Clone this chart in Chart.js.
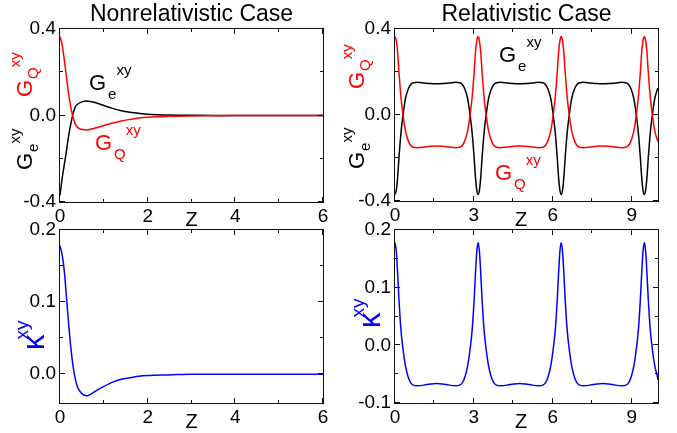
<!DOCTYPE html>
<html>
<head>
<meta charset="utf-8">
<script src="https://cdn.jsdelivr.net/npm/chart.js@4.4.1/dist/chart.umd.min.js"></script>
<style>
  body { margin: 0; background: #fff; }
  #wrap { position: relative; width: 677px; height: 433px; }
  canvas { position: absolute; left: 0; top: 0; }
</style>
</head>
<body>
<div id="wrap">
  <canvas id="tl" width="677" height="433"></canvas>
  <canvas id="tr" width="677" height="433"></canvas>
  <canvas id="bl" width="677" height="433"></canvas>
  <canvas id="br" width="677" height="433"></canvas>
</div>
<script>
// nonrelativistic case, Z from 0 to 6
const zNR = [0, 0.05, 0.1, 0.15, 0.2, 0.25, 0.3, 0.35, 0.4, 0.5, 0.6, 0.7, 0.8, 1.0, 1.2, 1.4, 1.6, 1.8, 2.0, 2.5, 3.0, 3.5, 4.0, 5.0, 6.0]
const gqNR = [0.365, 0.325, 0.255, 0.175, 0.095, 0.035, -0.01, -0.04, -0.055, -0.065, -0.067, -0.064, -0.058, -0.046, -0.035, -0.025, -0.018, -0.012, -0.008, -0.004, -0.002, -0.001, 0, 0, 0]
const geNR = [-0.37, -0.29, -0.225, -0.16, -0.09, -0.035, 0.01, 0.04, 0.052, 0.063, 0.067, 0.065, 0.06, 0.046, 0.033, 0.022, 0.015, 0.01, 0.006, 0.002, 0.001, 0, 0, 0, 0]
const kNR = [0.178, 0.165, 0.142, 0.105, 0.068, 0.035, 0.01, -0.007, -0.018, -0.027, -0.03, -0.028, -0.024, -0.017, -0.011, -0.007, -0.005, -0.003, -0.002, -0.001, 0, 0, 0, 0, 0]

// relativistic case, Z from 0 to 10
const zR = [
  0, 0.05, 0.1, 0.15, 0.2, 0.25, 0.3, 0.35, 0.4, 0.5, 0.6, 0.7, 0.85, 1.1, 1.35, 1.58,
  1.81, 2.06, 2.31, 2.46, 2.56, 2.66, 2.76, 2.81, 2.86, 2.91, 2.96, 3.01, 3.06, 3.11,
  3.16, 3.21, 3.26, 3.31, 3.36, 3.41, 3.46, 3.51, 3.56, 3.66, 3.76, 3.86, 4.01, 4.26, 4.51, 4.74,
  4.97, 5.22, 5.47, 5.62, 5.72, 5.82, 5.92, 5.97, 6.02, 6.07, 6.12, 6.17, 6.22, 6.27,
  6.32, 6.37, 6.42, 6.47, 6.52, 6.57, 6.62, 6.67, 6.72, 6.82, 6.92, 7.02, 7.17, 7.42, 7.67, 7.90,
  8.13, 8.38, 8.63, 8.78, 8.88, 8.98, 9.08, 9.13, 9.18, 9.23, 9.28, 9.33, 9.38, 9.43,
  9.48, 9.53, 9.58, 9.63, 9.68, 9.73, 9.78, 9.83, 9.88, 9.98, 10.0
]
const gqR = [
  0.365, 0.345, 0.29, 0.2, 0.12, 0.055, 0.005, -0.04, -0.075, -0.118, -0.142, -0.15, -0.152, -0.149, -0.145, -0.144,
  -0.145, -0.149, -0.152, -0.15, -0.142, -0.118, -0.075, -0.04, 0.005, 0.055, 0.12, 0.2, 0.29, 0.345,
  0.365, 0.345, 0.29, 0.2, 0.12, 0.055, 0.005, -0.04, -0.075, -0.118, -0.142, -0.15, -0.152, -0.149, -0.145, -0.144,
  -0.145, -0.149, -0.152, -0.15, -0.142, -0.118, -0.075, -0.04, 0.005, 0.055, 0.12, 0.2, 0.29, 0.345,
  0.365, 0.345, 0.29, 0.2, 0.12, 0.055, 0.005, -0.04, -0.075, -0.118, -0.142, -0.15, -0.152, -0.149, -0.145, -0.144,
  -0.145, -0.149, -0.152, -0.15, -0.142, -0.118, -0.075, -0.04, 0.005, 0.055, 0.12, 0.2, 0.29, 0.345,
  0.365, 0.345, 0.29, 0.2, 0.12, 0.055, 0.005, -0.04, -0.075, -0.118, -0.124
]
const geR = [
  -0.37, -0.35, -0.29, -0.2, -0.12, -0.055, -0.005, 0.04, 0.078, 0.12, 0.142, 0.15, 0.152, 0.149, 0.146, 0.145,
  0.146, 0.149, 0.152, 0.15, 0.142, 0.12, 0.078, 0.04, -0.005, -0.055, -0.12, -0.2, -0.29, -0.35,
  -0.37, -0.35, -0.29, -0.2, -0.12, -0.055, -0.005, 0.04, 0.078, 0.12, 0.142, 0.15, 0.152, 0.149, 0.146, 0.145,
  0.146, 0.149, 0.152, 0.15, 0.142, 0.12, 0.078, 0.04, -0.005, -0.055, -0.12, -0.2, -0.29, -0.35,
  -0.37, -0.35, -0.29, -0.2, -0.12, -0.055, -0.005, 0.04, 0.078, 0.12, 0.142, 0.15, 0.152, 0.149, 0.146, 0.145,
  0.146, 0.149, 0.152, 0.15, 0.142, 0.12, 0.078, 0.04, -0.005, -0.055, -0.12, -0.2, -0.29, -0.35,
  -0.37, -0.35, -0.29, -0.2, -0.12, -0.055, -0.005, 0.04, 0.078, 0.12, 0.126
]
const kR = [
  0.178, 0.163, 0.125, 0.08, 0.042, 0.015, -0.005, -0.022, -0.036, -0.055, -0.065, -0.069, -0.07, -0.069, -0.067, -0.066,
  -0.067, -0.069, -0.07, -0.069, -0.065, -0.055, -0.036, -0.022, -0.005, 0.015, 0.042, 0.08, 0.125, 0.163,
  0.178, 0.163, 0.125, 0.08, 0.042, 0.015, -0.005, -0.022, -0.036, -0.055, -0.065, -0.069, -0.07, -0.069, -0.067, -0.066,
  -0.067, -0.069, -0.07, -0.069, -0.065, -0.055, -0.036, -0.022, -0.005, 0.015, 0.042, 0.08, 0.125, 0.163,
  0.178, 0.163, 0.125, 0.08, 0.042, 0.015, -0.005, -0.022, -0.036, -0.055, -0.065, -0.069, -0.07, -0.069, -0.067, -0.066,
  -0.067, -0.069, -0.07, -0.069, -0.065, -0.055, -0.036, -0.022, -0.005, 0.015, 0.042, 0.08, 0.125, 0.163,
  0.178, 0.163, 0.125, 0.08, 0.042, 0.015, -0.005, -0.022, -0.036, -0.055, -0.06
]

// axis ticks
const xMajNR = [0, 2, 4, 6], xMinNR = [1, 3, 5]
const xMajR = [0, 3, 6, 9], xMinR = [1.5, 4.5, 7.5]
const yMajG = [-0.4, 0, 0.4], yMinG = [-0.2, 0.2]
const yMajKNR = [0, 0.1, 0.2], yMinKNR = [0.05, 0.15]
const yMajKR = [-0.1, 0, 0.1, 0.2], yMinKR = [-0.05, 0.05, 0.15]

const FONT = '"Liberation Sans", Arial, sans-serif'
const RED = '#ff0000', BLACK = '#000000', BLUE = '#0000ff'

function drawNote(ctx, n) {
  ctx.save()
  ctx.translate(n.x, n.y)
  if (n.rot) ctx.rotate(-Math.PI / 2)
  ctx.fillStyle = n.color || '#000'
  ctx.textBaseline = 'alphabetic'
  ctx.textAlign = n.align || 'left'
  ctx.font = n.size + 'px ' + FONT
  ctx.fillText(n.base, 0, 0)
  ctx.textAlign = 'left'
  let cx = ctx.measureText(n.base).width + (n.gap || 0)
  if (n.sub) {
    ctx.font = n.small + 'px ' + FONT
    ctx.fillText(n.sub, cx, n.drop)
    cx += ctx.measureText(n.sub).width
  }
  if (n.sup) {
    ctx.font = n.small + 'px ' + FONT
    ctx.fillText(n.sup, cx + (n.supGap || 0), -n.rise)
  }
  ctx.restore()
}

// frame with inward ticks on all four sides, plus text notes
const frameTicks = {
  id: 'frameTicks',
  afterDraw(chart, args, opts) {
    const { ctx, chartArea: a } = chart
    const xs = chart.scales.x, ys = chart.scales.y
    ctx.save()
    ctx.strokeStyle = '#111'
    ctx.lineWidth = 1
    ctx.strokeRect(a.left - 0.5, a.top - 0.5, a.right - a.left + 1, a.bottom - a.top + 1)
    ctx.beginPath()
    const xt = (vals, len) => vals.forEach(v => {
      const p = Math.round(xs.getPixelForValue(v)) - 0.5
      ctx.moveTo(p, a.bottom); ctx.lineTo(p, a.bottom - len)
      ctx.moveTo(p, a.top); ctx.lineTo(p, a.top + len)
    })
    const yt = (vals, len) => vals.forEach(v => {
      const p = Math.round(ys.getPixelForValue(v)) - 0.5
      ctx.moveTo(a.left, p); ctx.lineTo(a.left + len, p)
      ctx.moveTo(a.right, p); ctx.lineTo(a.right - len, p)
    })
    xt(opts.xMaj, 5); xt(opts.xMin, 3)
    yt(opts.yMaj, 5); yt(opts.yMin, 3)
    ctx.stroke()
    ctx.restore()
    opts.notes.forEach(n => drawNote(ctx, n))
  }
}

function makePanel(id, box, xr, yr, series, notes) {
  const yW = 50, xH = 30
  new Chart(document.getElementById(id), {
    type: 'line',
    data: {
      datasets: series.map(s => ({
        data: s.x.map((v, i) => ({ x: v, y: s.y[i] })),
        borderColor: s.color,
        borderWidth: 1.5,
        pointRadius: 0,
        cubicInterpolationMode: 'monotone',
        fill: false
      }))
    },
    options: {
      responsive: false,
      animation: false,
      events: [],
      layout: { padding: { left: box.left - yW, top: box.top, right: 677 - box.right, bottom: 433 - box.bottom - xH } },
      scales: {
        x: {
          type: 'linear', min: xr.min, max: xr.max,
          afterFit: s => { s.height = xH },
          afterBuildTicks: s => { s.ticks = xr.maj.map(v => ({ value: v })) },
          grid: { display: false, drawTicks: false },
          border: { display: false },
          ticks: { font: { family: FONT, size: 19 }, color: '#000', padding: 3, maxRotation: 0, autoSkip: false, callback: v => String(v) }
        },
        y: {
          type: 'linear', min: yr.min, max: yr.max,
          afterFit: s => { s.width = yW },
          afterBuildTicks: s => { s.ticks = yr.maj.map(v => ({ value: v })) },
          grid: { display: false, drawTicks: false },
          border: { display: false },
          ticks: { font: { family: FONT, size: 19 }, color: '#000', padding: 4, autoSkip: false, callback: v => v.toFixed(1) }
        }
      },
      plugins: {
        legend: { display: false },
        tooltip: { enabled: false },
        frameTicks: { xMaj: xr.maj, xMin: xr.min2, yMaj: yr.maj, yMin: yr.min2, notes: notes }
      }
    },
    plugins: [frameTicks]
  })
}

const gLab = (x, y, sub, color) => ({ x, y, base: 'G', size: 22, small: 15, sub, drop: 9, sup: 'xy', rise: 15, gap: 2, color })
const gAxis = (x, y, sub, color) => ({ x, y, rot: true, base: 'G', size: 22, small: 15, sub, drop: 6, sup: 'xy', rise: 12, gap: 1, color })
const kAxis = (x, y) => ({ x, y, rot: true, base: 'κ', size: 31, small: 19, sup: 'xy', rise: 16, supGap: -5, color: BLUE })

makePanel('tl', { left: 60, top: 29, right: 323, bottom: 202 },
  { min: 0, max: 6, maj: xMajNR, min2: xMinNR },
  { min: -0.4, max: 0.4, maj: yMajG, min2: yMinG },
  [{ x: zNR, y: gqNR, color: RED }, { x: zNR, y: geNR, color: BLACK }],
  [
    { x: 191.5, y: 21, base: 'Nonrelativistic Case', size: 23, align: 'center' },
    { x: 191.5, y: 226, base: 'Z', size: 20, align: 'center' },
    gLab(89, 90, 'e', BLACK),
    gLab(95, 150, 'Q', RED),
    gAxis(32, 97, 'Q', RED),
    gAxis(32, 170, 'e', BLACK)
  ])

makePanel('tr', { left: 395, top: 29, right: 658, bottom: 201 },
  { min: 0, max: 10, maj: xMajR, min2: xMinR },
  { min: -0.4, max: 0.4, maj: yMajG, min2: yMinG },
  [{ x: zR, y: gqR, color: RED }, { x: zR, y: geR, color: BLACK }],
  [
    { x: 526.5, y: 21, base: 'Relativistic Case', size: 23, align: 'center' },
    { x: 521, y: 226, base: 'Z', size: 20, align: 'center' },
    gLab(499, 62, 'e', BLACK),
    gLab(495, 180, 'Q', RED),
    gAxis(364, 89, 'Q', RED),
    gAxis(364, 169, 'e', BLACK)
  ])

makePanel('bl', { left: 60, top: 230, right: 323, bottom: 403 },
  { min: 0, max: 6, maj: xMajNR, min2: xMinNR },
  { min: -0.04, max: 0.2, maj: yMajKNR, min2: yMinKNR },
  [{ x: zNR, y: kNR, color: BLUE }],
  [
    { x: 191.5, y: 428, base: 'Z', size: 20, align: 'center' },
    kAxis(44, 350)
  ])

makePanel('br', { left: 395, top: 230, right: 658, bottom: 403 },
  { min: 0, max: 10, maj: xMajR, min2: xMinR },
  { min: -0.1, max: 0.2, maj: yMajKR, min2: yMinKR },
  [{ x: zR, y: kR, color: BLUE }],
  [
    { x: 521, y: 428, base: 'Z', size: 20, align: 'center' },
    kAxis(380, 328)
  ])
</script>
</body>
</html>
